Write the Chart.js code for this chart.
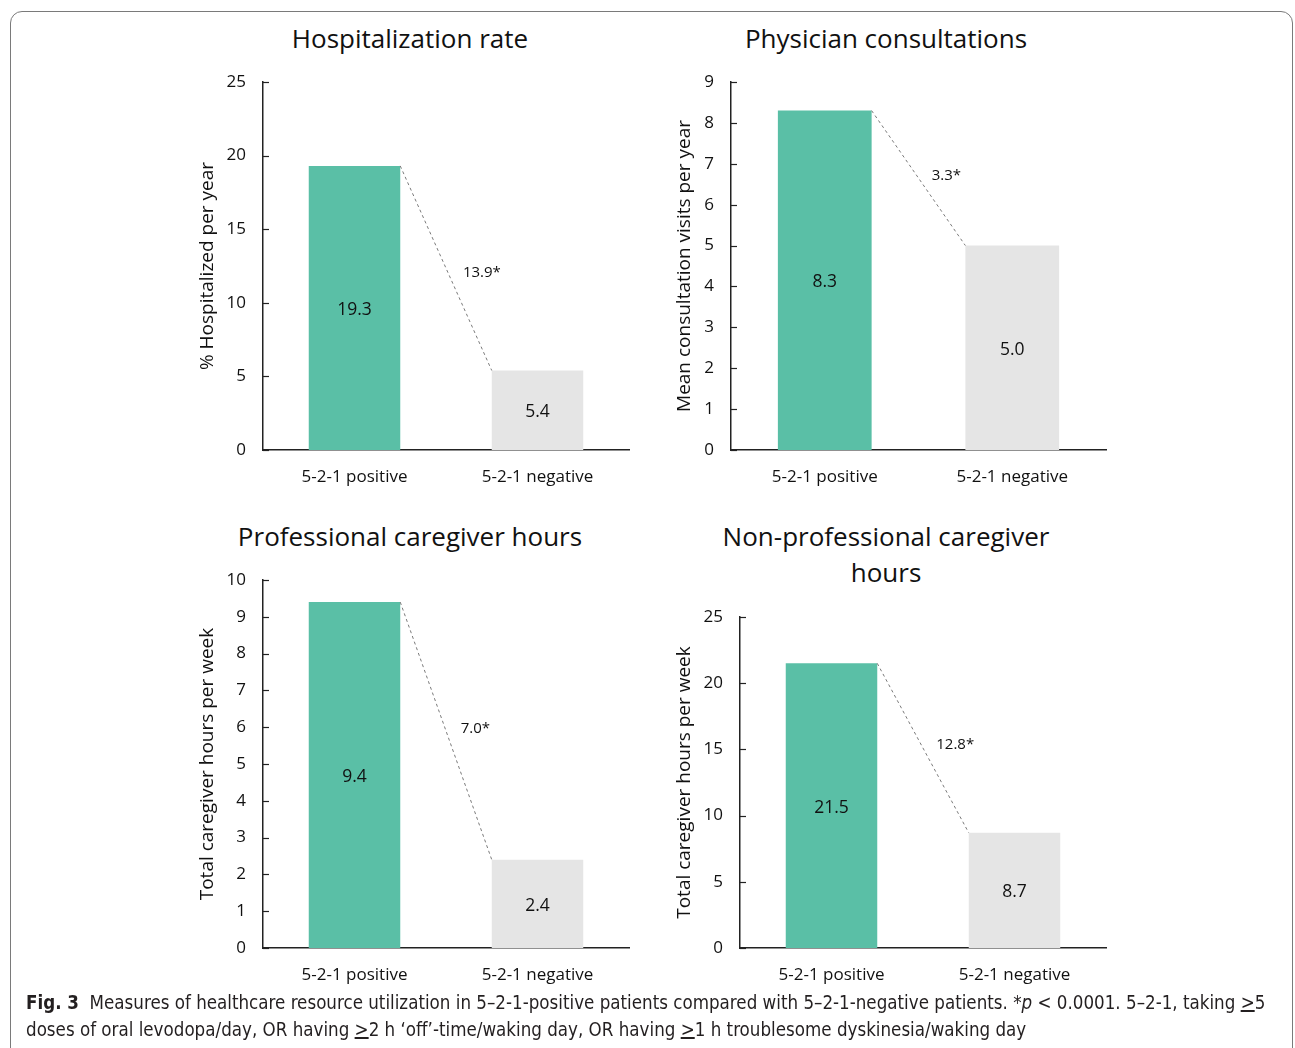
<!DOCTYPE html>
<html>
<head>
<meta charset="utf-8">
<script src="https://cdn.jsdelivr.net/npm/chart.js@4.4.1/dist/chart.umd.min.js"></script>
<style>
  html, body { margin: 0; padding: 0; background: #fff; }
  body { width: 1295px; height: 1048px; position: relative; overflow: hidden; font-family: "Open Sans", sans-serif; }
  .frame { position: absolute; left: 10px; top: 11px; width: 1283px; height: 1080px; border: 1px solid #7a7a7a; border-radius: 12px; box-sizing: border-box; }
  .ttl { position: absolute; width: 470px; text-align: center; font-size: 26px; color: #111; line-height: 36px; }
  .cv { position: absolute; }
  .caption { position: absolute; left: 26px; top: 989px; font-family: "DejaVu Sans Condensed", "Liberation Sans Narrow", sans-serif; font-size: 20px; line-height: 27px; color: #231f20; white-space: nowrap; transform: scaleX(0.93); transform-origin: 0 0; }
  .caption b { font-weight: bold; }
</style>
</head>
<body>
<div class="frame"></div>
<div class="ttl" id="t0" style="left:175px; top:20px;">Hospitalization rate</div>
<div class="ttl" id="t1" style="left:651px; top:20px;">Physician consultations</div>
<div class="ttl" id="t2" style="left:175px; top:518px;">Professional caregiver hours</div>
<div class="ttl" id="t3" style="left:651px; top:518px;">Non-professional caregiver<br>hours</div>

<canvas class="cv" id="c0"></canvas>
<canvas class="cv" id="c1"></canvas>
<canvas class="cv" id="c2"></canvas>
<canvas class="cv" id="c3"></canvas>

<div class="caption"><b>Fig. 3</b>&nbsp; Measures of healthcare resource utilization in 5–2-1-positive patients compared with 5–2-1-negative patients. *<i>p</i> &lt; 0.0001. 5–2-1, taking <u>&gt;</u>5<br>doses of oral levodopa/day, OR having <u>&gt;</u>2 h ‘off’-time/waking day, OR having <u>&gt;</u>1 h troublesome dyskinesia/waking day</div>

<script>
// ---- Data ----
const categories = ['5-2-1 positive', '5-2-1 negative'];
const hospitalizationRate = [19.3, 5.4];
const physicianConsultations = [8.3, 5.0];
const professionalCaregiverHours = [9.4, 2.4];
const nonProfessionalCaregiverHours = [21.5, 8.7];
const differenceLabels = ['13.9*', '3.3*', '7.0*', '12.8*'];
const yAxisTitles = ['% Hospitalized per year', 'Mean consultation visits per year', 'Total caregiver hours per week', 'Total caregiver hours per week'];
const yMaxValues = [25, 9, 10, 25];
const yStepValues = [5, 1, 1, 5];
const seriesList = [hospitalizationRate, physicianConsultations, professionalCaregiverHours, nonProfessionalCaregiverHours];

// ---- Layout (positions only) ----
const panels = [
  { cl: 180, ct: 60,  pl: 263, pt: 82,  pr: 629,  pb: 450, titleOff: 28, lt: 0.51 },
  { cl: 660, ct: 60,  pl: 731, pt: 82,  pr: 1106, pb: 450, titleOff: 25, lt: 0.47 },
  { cl: 180, ct: 558, pl: 263, pt: 580, pr: 629,  pb: 948, titleOff: 28, lt: 0.485 },
  { cl: 660, ct: 595, pl: 740, pt: 617, pr: 1106, pb: 948, titleOff: 25, lt: 0.47 }
];
const CW = 470, XAXIS_H = 50;
const TEAL = '#5abfa6', GREY = '#e5e5e5', AXIS = '#222';
const FONT = '"Open Sans", sans-serif';

const annot = {
  id: 'annot',
  afterDatasetsDraw(chart, args, opts) {
    const ctx = chart.ctx;
    const meta = chart.getDatasetMeta(0);
    const b0 = meta.data[0], b1 = meta.data[1];
    const ds = chart.data.datasets[0].data;
    ctx.save();
    ctx.fillStyle = '#111';
    ctx.font = '17.5px ' + FONT;
    ctx.textAlign = 'center';
    ctx.textBaseline = 'middle';
    [b0, b1].forEach((b, i) => {
      ctx.fillText(ds[i].toFixed(1), b.x, (b.y + b.base) / 2 + 2);
    });
    const x1 = b0.x + b0.width / 2, y1 = b0.y;
    const x2 = b1.x - b1.width / 2, y2 = b1.y;
    ctx.strokeStyle = '#7a7a7a';
    ctx.lineWidth = 1;
    ctx.setLineDash([3, 3]);
    ctx.beginPath();
    ctx.moveTo(x1, y1);
    ctx.lineTo(x2, y2);
    ctx.stroke();
    ctx.setLineDash([]);
    ctx.font = '15px ' + FONT;
    ctx.textAlign = 'left';
    const t = opts.t;
    const lx = x1 + (x2 - x1) * t, ly = y1 + (y2 - y1) * t;
    ctx.fillText(opts.text, lx + 16, ly + 2);
    const ys = chart.scales.y;
    ctx.strokeStyle = AXIS;
    ctx.lineWidth = 1.2;
    ys.ticks.forEach(tk => {
      const py = Math.round(ys.getPixelForValue(tk.value)) + 0.5;
      ctx.beginPath();
      ctx.moveTo(chart.chartArea.left, py);
      ctx.lineTo(chart.chartArea.left + 6, py);
      ctx.stroke();
    });
    ctx.restore();
  }
};

panels.forEach((p, i) => {
  const cv = document.getElementById('c' + i);
  const ch = p.pb + XAXIS_H - p.ct;
  cv.style.left = p.cl + 'px';
  cv.style.top = p.ct + 'px';
  cv.style.width = CW + 'px';
  cv.style.height = ch + 'px';
  cv.width = CW; cv.height = ch;
  const yW = p.pl - p.cl;
  const padRight = p.cl + CW - p.pr;
  new Chart(cv, {
    type: 'bar',
    data: {
      labels: categories,
      datasets: [{
        data: seriesList[i],
        backgroundColor: [TEAL, GREY],
        borderWidth: 0,
        barPercentage: 0.5,
        categoryPercentage: 1.0
      }]
    },
    options: {
      responsive: false,
      animation: false,
      devicePixelRatio: 1,
      layout: { padding: { top: p.pt - p.ct, right: padRight, left: 0, bottom: 0 } },
      plugins: {
        legend: { display: false },
        tooltip: { enabled: false },
        title: { display: false },
        annot: { text: differenceLabels[i], t: p.lt }
      },
      scales: {
        x: {
          grid: { display: false, drawTicks: false },
          border: { display: true, color: AXIS, width: 1.5 },
          ticks: { color: '#111', font: { family: FONT, size: 17 }, padding: 17, maxRotation: 0 },
          afterFit(s) { s.height = XAXIS_H; }
        },
        y: {
          min: 0,
          max: yMaxValues[i],
          grid: { display: false, drawTicks: true, tickLength: 17 },
          border: { display: true, color: AXIS, width: 1.5 },
          ticks: { stepSize: yStepValues[i], color: '#111', font: { family: FONT, size: 17 }, padding: 0 },
          title: {
            display: true,
            text: yAxisTitles[i],
            color: '#111',
            font: { family: FONT, size: 19 },
            padding: { top: p.titleOff - 11.5, bottom: 0 }
          },
          afterFit(s) { s.width = yW; }
        }
      }
    },
    plugins: [annot]
  });
});
</script>
</body>
</html>
